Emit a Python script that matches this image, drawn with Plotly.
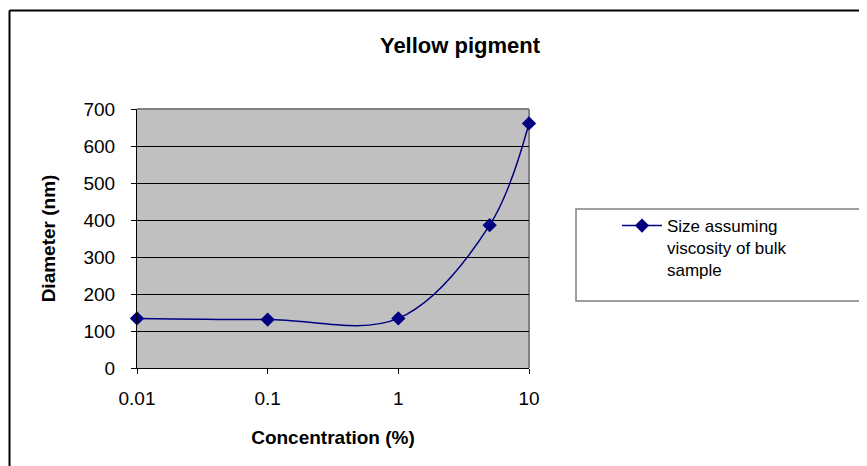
import plotly.graph_objects as go

concentration = [0.01, 0.1, 1, 5, 10]
diameter = [134, 131, 134, 386, 661]
series_name = "Size assuming<br>viscosity of bulk<br>sample"
title_text = "Yellow pigment"
x_title = "Concentration (%)"
y_title = "Diameter (nm)"
x_ticks = [0.01, 0.1, 1, 10]
x_ticklabels = ["0.01", "0.1", "1", "10"]
y_ticks = [0, 100, 200, 300, 400, 500, 600, 700]

OFF = 8  # page body margin
W, H = 867 - OFF, 466 - OFF
L, R, T, B = 137 - OFF, 529 - OFF, 109 - OFF, 368 - OFF

def px(x):
    return (x - OFF - L) / (R - L)

def py(y):
    return (B - (y - OFF)) / (B - T)

fig = go.Figure()
fig.add_trace(go.Scatter(
    x=concentration, y=diameter, name=series_name,
    mode="lines+markers",
    line=dict(color="#000080", width=1.5, shape="spline", smoothing=1),
    marker=dict(symbol="diamond", size=11, color="#000080"),
    cliponaxis=False,
))

font = "Liberation Sans, Arial, sans-serif"
fig.update_layout(
    width=W, height=H,
    margin=dict(l=L, r=W - R, t=T, b=H - B),
    paper_bgcolor="white",
    plot_bgcolor="#C0C0C0",
    font=dict(family=font, color="black", size=19),
    title=dict(text="<b>" + title_text + "</b>", x=(460 - OFF) / W, xanchor="center",
               y=1 - (45 - OFF) / H, yanchor="middle", font=dict(size=22)),
    showlegend=True,
    legend=dict(x=px(617), y=py(208), xanchor="left", yanchor="top",
                bgcolor="rgba(0,0,0,0)", borderwidth=0, valign="top",
                font=dict(size=17), itemwidth=40, tracegroupgap=0),
    xaxis=dict(type="log", range=[-2, 1], tickvals=x_ticks, ticktext=x_ticklabels,
               showgrid=False, zeroline=False, showline=True, linecolor="black", linewidth=1,
               ticks="outside", ticklen=5, tickcolor="black", ticklabelstandoff=8,
               title=dict(text="<b>" + x_title + "</b>", font=dict(size=19), standoff=22),
               tickfont=dict(size=19)),
    yaxis=dict(range=[0, 700], tickvals=y_ticks, showgrid=True, gridcolor="black", gridwidth=1,
               zeroline=False, showline=True, linecolor="black", linewidth=1,
               ticks="outside", ticklen=5, tickcolor="black", ticklabelstandoff=12,
               title=dict(text="<b>" + y_title + "</b>", font=dict(size=19), standoff=22),
               tickfont=dict(size=19)),
    shapes=[
        dict(type="line", xref="paper", yref="paper", x0=0, x1=1, y0=1, y1=1,
             line=dict(color="#808080", width=2), layer="between"),
        dict(type="line", xref="paper", yref="paper", x0=1, x1=1, y0=0, y1=1,
             line=dict(color="#808080", width=2), layer="between"),
        dict(type="rect", xref="paper", yref="paper", x0=px(576), x1=px(864), y0=py(301), y1=py(209),
             line=dict(color="#808080", width=1.5), fillcolor="rgba(0,0,0,0)"),
        dict(type="line", xref="paper", yref="paper", x0=px(9.5), x1=px(9.5), y0=py(480), y1=py(10.5),
             line=dict(color="black", width=2)),
        dict(type="line", xref="paper", yref="paper", x0=px(9.5), x1=px(880), y0=py(10.5), y1=py(10.5),
             line=dict(color="black", width=2)),
    ],
)

fig.write_html("out.html")
